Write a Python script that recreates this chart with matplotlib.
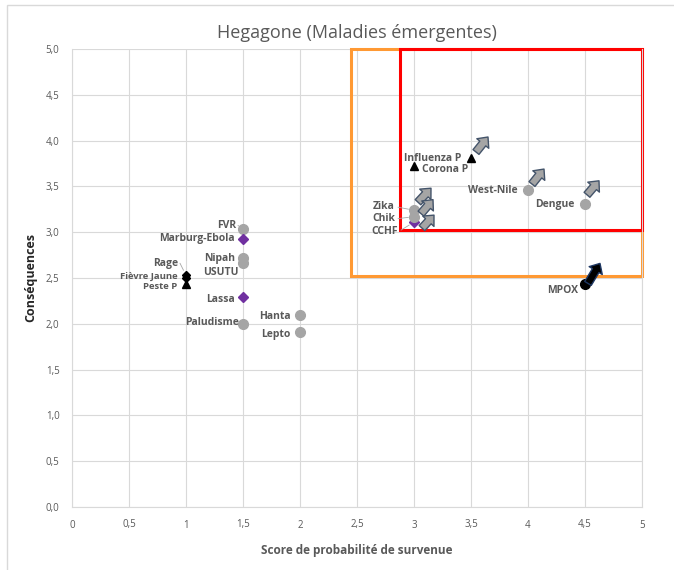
import matplotlib
matplotlib.use("Agg")
import matplotlib.pyplot as plt
from matplotlib.patches import Rectangle
from matplotlib.transforms import ScaledTranslation

plt.rcParams['font.family'] = ['Open Sans', 'DejaVu Sans']

# ---- data ----
names = ["FVR", "Marburg-Ebola", "Nipah", "USUTU", "Rage", "Fièvre Jaune", "Peste P",
         "Lassa", "Paludisme", "Hanta", "Lepto", "Influenza P", "Corona P",
         "West-Nile", "Dengue", "Zika", "Chik", "CCHF", "MPOX"]
proba = [1.5, 1.5, 1.5, 1.5, 1.0, 1.0, 1.0, 1.5, 1.5, 2.0, 2.0, 3.5, 3.0,
         4.0, 4.5, 3.0, 3.0, 3.0, 4.5]
conseq = [3.03, 2.93, 2.72, 2.66, 2.53, 2.50, 2.43, 2.29, 2.00, 2.10, 1.91, 3.81, 3.72,
          3.46, 3.31, 3.24, 3.17, 3.11, 2.43]
kind = ["circle", "diamond", "circle", "circle", "bdiamond", "bdiamond", "triangle",
        "diamond", "circle", "circle", "circle", "triangle", "triangle",
        "circle", "circle", "circle", "circle", "diamond", "bcircle"]
trend_up = ["Influenza P", "West-Nile", "Dengue", "Zika", "Chik", "CCHF", "MPOX"]

x_ticks = [0, 0.5, 1, 1.5, 2, 2.5, 3, 3.5, 4, 4.5, 5]
y_ticks = [0, 0.5, 1, 1.5, 2, 2.5, 3, 3.5, 4, 4.5, 5]
zone_orange = (2.45, 2.52)   # lower-left corner of orange zone
zone_red = (2.88, 3.02)      # lower-left corner of red zone

# ---- styles ----
style = {
    "circle": dict(marker="o", color="#a5a5a5", ms=7),
    "diamond": dict(marker="D", color="#7030a0", ms=5),
    "bdiamond": dict(marker="D", color="#000000", ms=4.5),
    "triangle": dict(marker="^", color="#000000", ms=6),
    "bcircle": dict(marker="o", color="#000000", ms=7),
}
# label offsets in pixels (dx, dy, ha, size)
lab_off = {
    "FVR": (-7, 4, "right"), "Marburg-Ebola": (-8, 0, "right"),
    "Nipah": (-8, -1, "right"), "USUTU": (-4, -9, "right"),
    "Rage": (-8, 12, "right"), "Fièvre Jaune": (-8, 2, "right"),
    "Peste P": (-9, -2, "right"), "Lassa": (-8, -2, "right"),
    "Paludisme": (-4, 1, "right"), "Hanta": (-9, -2, "right"),
    "Lepto": (-9, -2, "right"), "Influenza P": (-10, 0, "right"),
    "Corona P": (8, -3, "left"), "West-Nile": (-10, 0, "right"),
    "Dengue": (-11, -1, "right"), "Zika": (-19, 4, "right"),
    "Chik": (-19, -2, "right"), "CCHF": (-16, -9, "right"),
    "MPOX": (-7, -6, "right"),
}
small_labels = ["Fièvre Jaune", "Peste P"]
leaders = {"Zika": (-16, 3), "Chik": (-16, -2), "CCHF": (-13, -8), "Rage": (-6, 12), "FVR": (-5, 4)}
# arrow tail/tip offsets in pixels
arr_off = {
    "Influenza P": ((5, 6), (17, 21)), "West-Nile": ((4, 6), (16, 21)),
    "Dengue": ((2, 9), (14, 23)), "Zika": ((4, 8), (17, 22)),
    "Chik": ((7, 3), (19, 17)), "CCHF": ((8, -6), (20, 7)),
    "MPOX": ((3, 1), (15, 21)),
}

W, H = 674, 570
fig = plt.figure(figsize=(W / 100, H / 100), dpi=100)
ax = fig.add_axes([72 / W, 1 - 507 / H, (642 - 72) / W, (507 - 49) / H])

# outer chart border
fig.patches.append(Rectangle((7 / W, -0.1), 1.2, 1 - 5 / H + 0.1, transform=fig.transFigure,
                             fill=False, ec="#d9d9d9", lw=1))

ax.set_xlim(0, 5)
ax.set_ylim(0, 5)
ax.set_xticks(x_ticks)
ax.set_yticks(y_ticks)
ax.set_xticklabels([("%g" % v).replace(".", ",") for v in x_ticks])
ax.set_yticklabels([("%.1f" % v).replace(".", ",") for v in y_ticks])
ax.tick_params(length=0, labelsize=7, labelcolor="#595959", pad=9)
ax.grid(True, color="#d9d9d9", lw=0.8)
ax.set_axisbelow(True)
for s in ax.spines.values():
    s.set_color("#d9d9d9")
ax.spines["top"].set_visible(False)

ax.set_title("Hegagone (Maladies émergentes)", fontsize=13, color="#595959", pad=8)
ax.set_xlabel("Score de probabilité de survenue", fontsize=8.5, fontweight="bold",
              color="#595959", labelpad=10)
ax.set_ylabel("Conséquences", fontsize=9, fontweight="bold", color="#262626", labelpad=6)

# zones
ax.add_patch(Rectangle(zone_orange, 5 - zone_orange[0], 5 - zone_orange[1], fill=False,
                       ec="#ff9933", lw=2.2, zorder=2, clip_on=False))
ax.add_patch(Rectangle(zone_red, 5 - zone_red[0], 5 - zone_red[1], fill=False,
                       ec="#ff0000", lw=2.2, zorder=2.1, clip_on=False))


def shifted(dx, dy):
    return ax.transData + ScaledTranslation(dx / 100, dy / 100, fig.dpi_scale_trans)


for n, x, y, k in zip(names, proba, conseq, kind):
    st = style[k]
    z = 3 if n != "CCHF" else 2.9
    ax.plot([x], [y], marker=st["marker"], color=st["color"], ms=st["ms"], ls="none", zorder=z)
    dx, dy, ha = lab_off[n]
    ax.annotate(n, (x, y), xytext=(dx, dy), textcoords="offset pixels", ha=ha, va="center",
                fontsize=6.8 if n in small_labels else 7.5, fontweight="bold",
                color="#595959", zorder=5)
    if n in leaders:
        lx, ly = leaders[n]
        ax.annotate("", xy=(x, y), xytext=(lx, ly), textcoords="offset pixels",
                    arrowprops=dict(arrowstyle="-", color="#a6a6a6", lw=0.6,
                                    shrinkA=0, shrinkB=4))
    if n in trend_up:
        (tx, ty), (hx, hy) = arr_off[n]
        black = (n == "MPOX")
        ax.annotate("", xy=(x, y), xycoords=shifted(hx, hy),
                    xytext=(tx - hx, ty - hy), textcoords="offset pixels",
                    arrowprops=dict(arrowstyle="simple,head_length=0.6,head_width=1.1,tail_width=0.55",
                                    mutation_scale=10,
                                    fc="#000000" if black else "#a5a5a5",
                                    ec="#1f3864" if black else "#44546a",
                                    lw=1.0, shrinkA=0, shrinkB=0),
                    zorder=4)

fig.savefig("out.png", dpi=100)
